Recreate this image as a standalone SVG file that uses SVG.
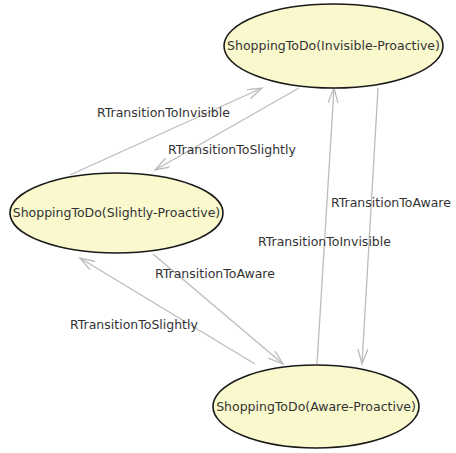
<svg xmlns="http://www.w3.org/2000/svg" width="456" height="453" viewBox="0 0 456 453">
  <style>
    .node ellipse { fill: #f9f9cd; stroke: #1a1a1a; stroke-width: 1.6; }
    .node text { font-family: "DejaVu Sans", "Liberation Sans", sans-serif; font-size: 12.5px; fill: #333; text-anchor: middle; }
    .edge { stroke: #bcbcbc; stroke-width: 1.3; fill: none; marker-end: url(#arrow); }
    .label { font-family: "DejaVu Sans", "Liberation Sans", sans-serif; font-size: 12.5px; fill: #333; }
  </style>
  <defs>
    <marker id="arrow" markerUnits="userSpaceOnUse" markerWidth="18" markerHeight="12" refX="15" refY="5" orient="auto">
      <path d="M0,0 L15,5 L0,10" fill="none" stroke="#bcbcbc" stroke-width="1.3"/>
    </marker>
  </defs>
  <rect width="456" height="453" fill="#ffffff"/>

  <!-- transitions -->
  <g id="edges">
    <line class="edge" x1="70" y1="175" x2="262" y2="88"/>
    <line class="edge" x1="299" y1="88" x2="155" y2="170"/>
    <line class="edge" x1="378" y1="88" x2="362" y2="364"/>
    <line class="edge" x1="317" y1="364" x2="334" y2="88"/>
    <line class="edge" x1="153" y1="254" x2="283" y2="364"/>
    <line class="edge" x1="255" y1="364" x2="80" y2="258"/>
    <text class="label" x="97" y="117">RTransitionToInvisible</text>
    <text class="label" x="168" y="154">RTransitionToSlightly</text>
    <text class="label" x="331" y="207">RTransitionToAware</text>
    <text class="label" x="258" y="246">RTransitionToInvisible</text>
    <text class="label" x="155" y="278">RTransitionToAware</text>
    <text class="label" x="70" y="329">RTransitionToSlightly</text>
  </g>

  <g id="invisible" class="node">
    <ellipse cx="333.5" cy="46" rx="109.5" ry="42"/>
    <text x="333.5" y="50">ShoppingToDo(Invisible-Proactive)</text>
  </g>
  <g id="slightly" class="node">
    <ellipse cx="116.5" cy="213" rx="106.5" ry="40"/>
    <text x="116.5" y="217">ShoppingToDo(Slightly-Proactive)</text>
  </g>
  <g id="aware" class="node">
    <ellipse cx="316" cy="406.5" rx="103" ry="41.5"/>
    <text x="316" y="411">ShoppingToDo(Aware-Proactive)</text>
  </g>
</svg>
